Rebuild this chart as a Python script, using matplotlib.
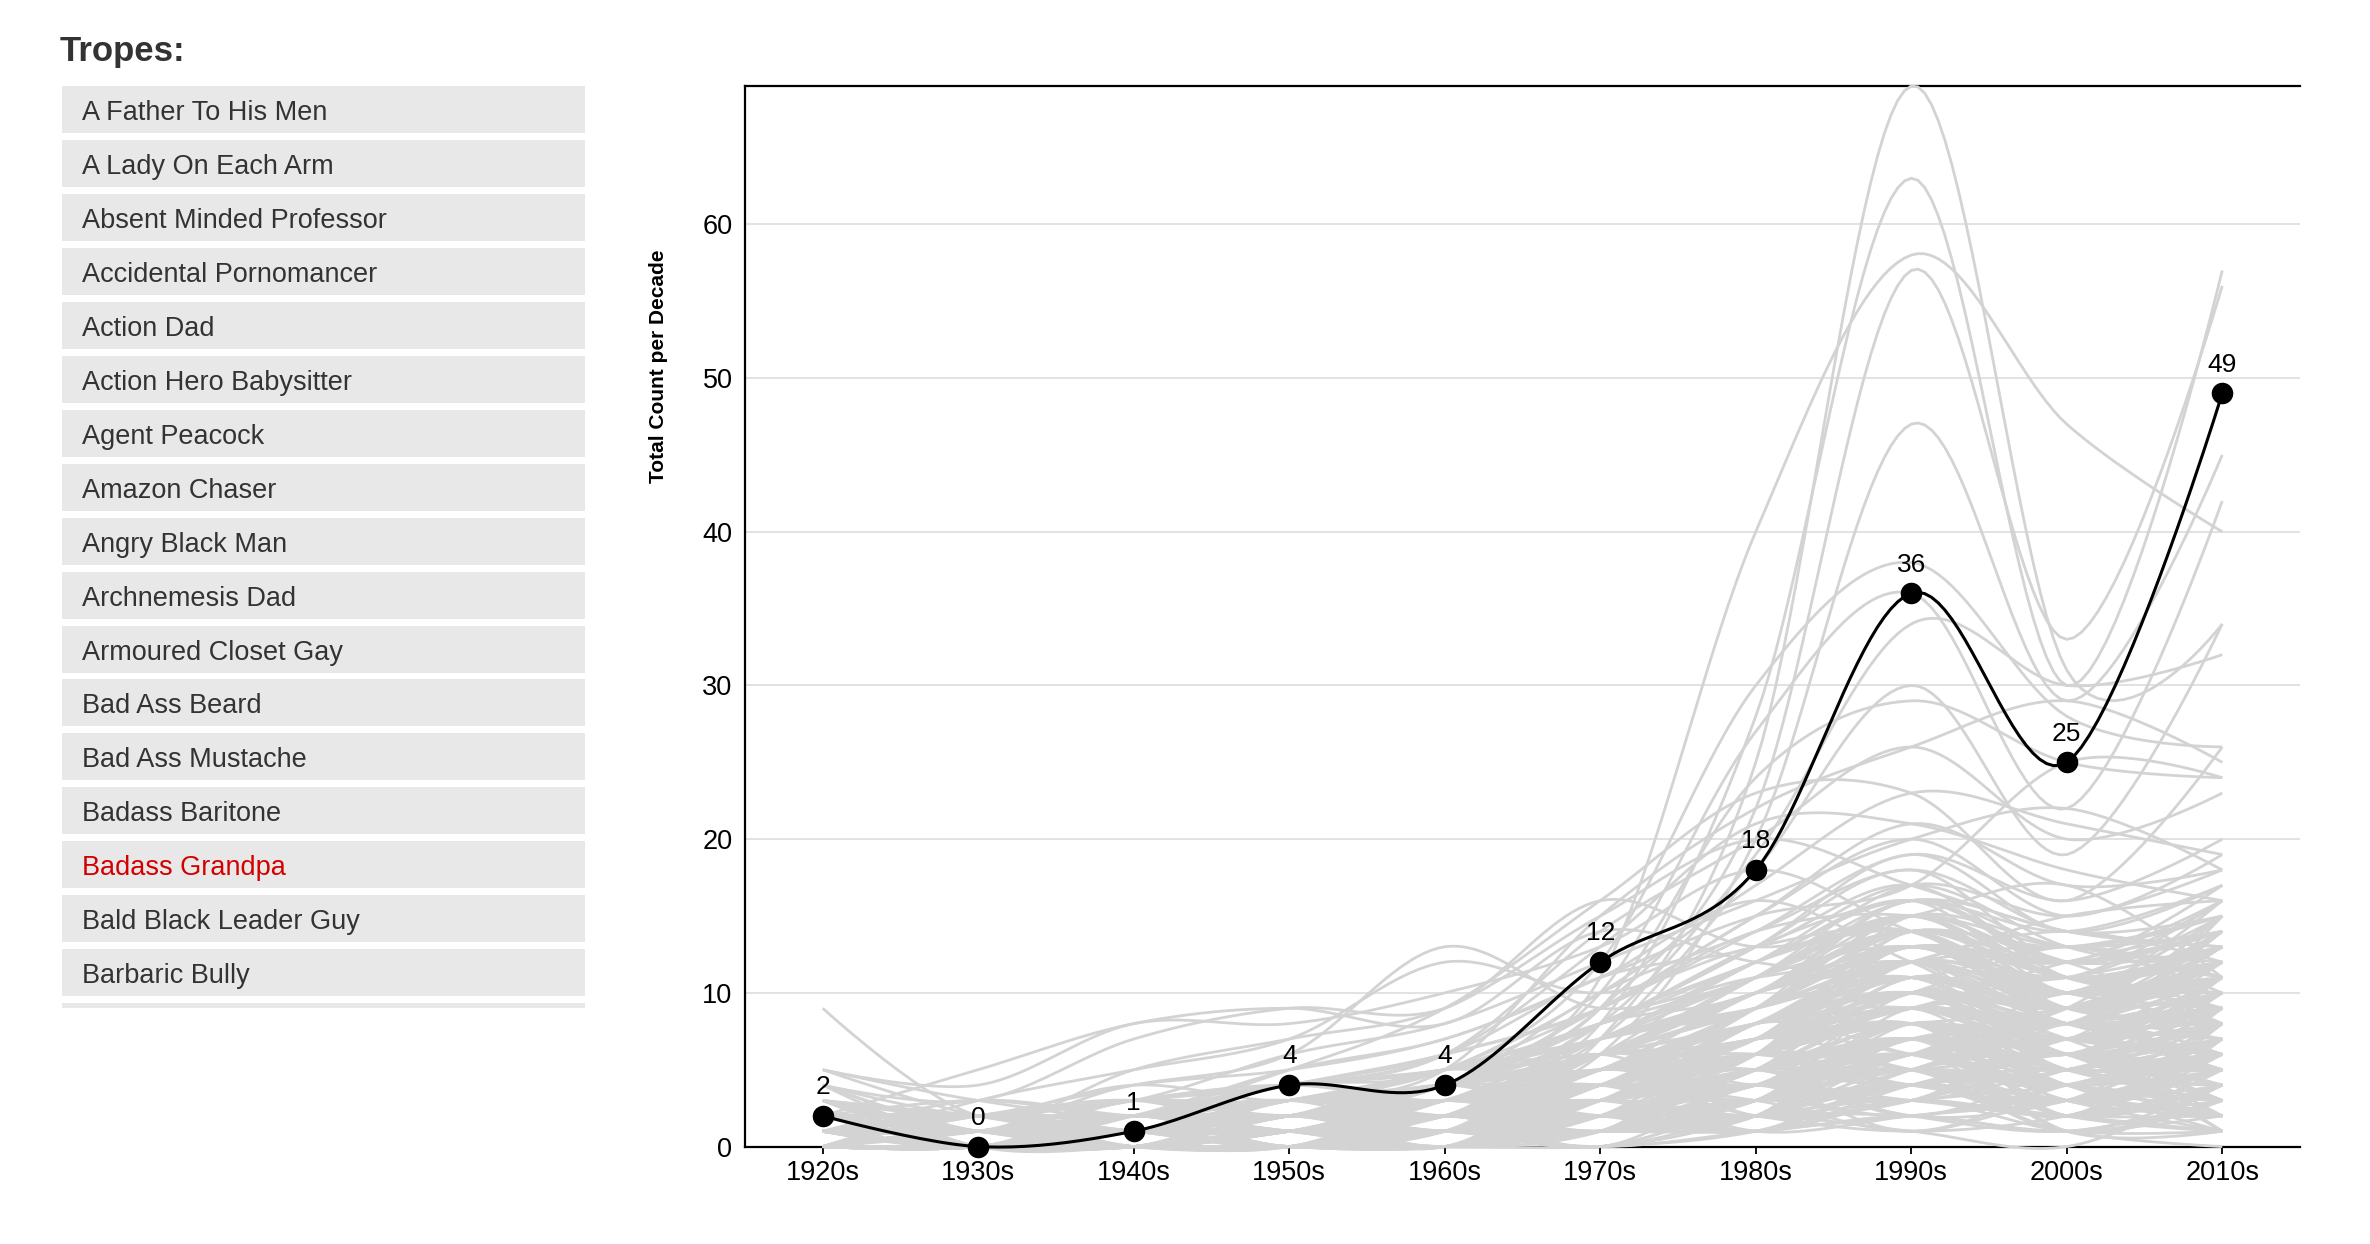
import numpy as np
import matplotlib
matplotlib.use("Agg")
import matplotlib.pyplot as plt
from matplotlib.patches import Rectangle

plt.rcParams['font.family'] = ['Liberation Sans', 'DejaVu Sans']

decades = ['1920s', '1930s', '1940s', '1950s', '1960s', '1970s', '1980s', '1990s', '2000s', '2010s']

trope_names = ['A Father To His Men', 'A Lady On Each Arm', 'Absent Minded Professor',
               'Accidental Pornomancer', 'Action Dad', 'Action Hero Babysitter', 'Agent Peacock',
               'Amazon Chaser', 'Angry Black Man', 'Archnemesis Dad', 'Armoured Closet Gay',
               'Bad Ass Beard', 'Bad Ass Mustache', 'Badass Baritone', 'Badass Grandpa',
               'Bald Black Leader Guy', 'Barbaric Bully']
selected_trope = 'Badass Grandpa'

# counts per decade for the selected trope
selected_counts = [2, 0, 1, 4, 4, 12, 18, 36, 25, 49]

# counts per decade for the other tropes (background lines)
other_counts = [
    [0, 1, 1, 2, 3, 7, 25, 69, 31, 34],
    [1, 0, 1, 2, 4, 8, 28, 63, 30, 57],
    [0, 0, 2, 3, 5, 11, 40, 58, 47, 40],
    [0, 1, 1, 3, 4, 9, 22, 57, 33, 56],
    [0, 0, 1, 2, 3, 6, 20, 47, 29, 45],
    [1, 1, 2, 4, 5, 12, 30, 38, 28, 26],
    [0, 0, 1, 2, 4, 10, 27, 36, 22, 42],
    [0, 1, 2, 3, 4, 8, 19, 34, 30, 32],
    [1, 0, 1, 2, 3, 7, 18, 30, 19, 34],
    [0, 1, 1, 2, 4, 9, 24, 29, 25, 24],
    [0, 0, 2, 3, 5, 15, 22, 26, 29, 25],
    [1, 2, 3, 4, 6, 14, 20, 26, 20, 23],
    [0, 1, 2, 5, 9, 16, 23, 23, 16, 26],
    [0, 0, 1, 3, 5, 10, 17, 23, 21, 19],
    [2, 1, 3, 4, 6, 13, 21, 21, 18, 16],
    [0, 2, 3, 6, 8, 12, 16, 20, 22, 18],
    [1, 0, 2, 5, 7, 11, 15, 17, 25, 24],
    [0, 1, 2, 4, 6, 9, 14, 15, 12, 17],
    [3, 1, 5, 7, 9, 15, 20, 17, 14, 13],
    [1, 2, 4, 6, 13, 9, 11, 12, 10, 15],
    [0, 3, 5, 7, 12, 10, 13, 14, 9, 12],
    [2, 5, 8, 9, 8, 14, 12, 11, 13, 10],
    [5, 4, 8, 8, 10, 13, 18, 14, 11, 9],
    [9, 2, 4, 5, 7, 11, 16, 12, 8, 14],
    [4, 3, 7, 9, 9, 16, 13, 15, 17, 11],
    [0, 0, 0, 0, 0, 1, 2, 5, 3, 6],
    [0, 0, 0, 1, 0, 2, 4, 8, 6, 9],
    [1, 0, 1, 1, 2, 3, 5, 9, 7, 10],
    [0, 1, 0, 2, 1, 2, 3, 6, 4, 8],
    [2, 1, 2, 3, 2, 4, 6, 10, 8, 12],
    [0, 0, 1, 0, 1, 0, 2, 3, 2, 4],
    [1, 1, 0, 1, 2, 5, 7, 12, 9, 13],
    [0, 0, 0, 0, 1, 1, 1, 2, 1, 3],
    [3, 2, 1, 2, 3, 4, 8, 11, 6, 7],
    [0, 1, 1, 0, 0, 2, 3, 4, 5, 2],
    [1, 0, 0, 1, 1, 3, 6, 14, 10, 11],
    [0, 2, 1, 1, 2, 3, 5, 7, 5, 5],
    [2, 0, 1, 2, 1, 4, 9, 13, 11, 16],
    [0, 0, 2, 1, 3, 2, 4, 6, 8, 9],
    [1, 1, 1, 2, 2, 6, 10, 15, 12, 14],
    [0, 0, 0, 1, 0, 1, 3, 5, 2, 1],
    [4, 2, 3, 2, 4, 5, 7, 9, 6, 8],
    [0, 1, 0, 0, 1, 2, 2, 3, 4, 6],
    [1, 0, 1, 3, 2, 5, 8, 10, 7, 12],
    [0, 0, 1, 1, 1, 0, 1, 2, 3, 5],
    [2, 2, 1, 0, 2, 3, 6, 8, 4, 3],
    [0, 1, 2, 2, 3, 4, 4, 6, 7, 10],
    [1, 0, 0, 1, 0, 2, 5, 11, 8, 6],
    [0, 0, 1, 2, 4, 3, 6, 9, 10, 13],
    [3, 1, 2, 1, 3, 6, 7, 13, 9, 15],
    [0, 0, 0, 0, 0, 0, 1, 4, 2, 7],
    [1, 2, 1, 2, 1, 3, 4, 5, 3, 4],
    [0, 1, 1, 1, 2, 4, 9, 16, 11, 10],
    [2, 1, 0, 3, 2, 2, 3, 7, 5, 9],
    [0, 0, 2, 0, 1, 1, 2, 2, 1, 2],
    [1, 1, 3, 2, 3, 5, 8, 12, 14, 12],
    [0, 0, 0, 1, 1, 2, 4, 6, 3, 5],
    [5, 3, 2, 4, 5, 7, 10, 14, 9, 8],
    [0, 1, 0, 1, 0, 1, 2, 8, 6, 11],
    [1, 0, 2, 1, 2, 3, 7, 9, 12, 14],
    [0, 2, 1, 3, 4, 5, 5, 4, 6, 3],
    [2, 0, 0, 0, 1, 2, 3, 10, 7, 6],
    [0, 1, 1, 2, 1, 4, 6, 13, 8, 9],
    [1, 0, 1, 0, 3, 3, 5, 7, 9, 16],
    [0, 0, 0, 2, 2, 1, 3, 3, 2, 1],
    [3, 2, 4, 3, 5, 6, 11, 15, 10, 12],
    [0, 1, 2, 1, 0, 2, 4, 5, 4, 7],
    [1, 1, 0, 2, 3, 7, 9, 11, 6, 5],
    [0, 0, 1, 0, 2, 3, 2, 6, 5, 8],
    [2, 1, 2, 4, 3, 5, 7, 10, 13, 11],
    [0, 0, 0, 0, 1, 1, 2, 1, 0, 4],
    [1, 3, 2, 2, 4, 4, 6, 8, 7, 6],
    [0, 0, 1, 3, 2, 6, 12, 14, 8, 10],
    [4, 1, 1, 2, 2, 3, 5, 12, 10, 13],
    [0, 2, 0, 1, 1, 2, 1, 3, 2, 3],
    [1, 0, 3, 2, 5, 4, 8, 9, 11, 9],
    [0, 1, 1, 1, 0, 3, 4, 7, 6, 4],
    [2, 0, 2, 3, 4, 8, 10, 16, 13, 15],
    [0, 0, 0, 1, 1, 1, 3, 5, 4, 2],
    [1, 2, 1, 0, 2, 5, 6, 11, 5, 7],
    [0, 0, 2, 2, 3, 2, 7, 8, 9, 12],
    [3, 1, 0, 1, 1, 4, 3, 6, 3, 5],
    [0, 1, 1, 2, 2, 6, 9, 14, 12, 8],
    [1, 0, 0, 0, 0, 1, 2, 4, 1, 0],
    [0, 1, 3, 4, 3, 5, 6, 9, 8, 14],
    [2, 2, 1, 1, 3, 3, 8, 12, 6, 11],
    [0, 0, 1, 0, 1, 2, 5, 6, 7, 6],
    [1, 1, 2, 3, 1, 4, 4, 10, 9, 13],
    [0, 0, 0, 1, 2, 7, 11, 13, 10, 9],
    [5, 2, 1, 2, 3, 2, 4, 3, 2, 2],
    [0, 1, 2, 1, 2, 3, 6, 15, 11, 12],
    [1, 0, 1, 2, 4, 5, 7, 8, 5, 10],
    [0, 2, 0, 0, 1, 1, 2, 5, 8, 7],
    [2, 1, 1, 3, 2, 6, 10, 12, 15, 16],
    [0, 0, 1, 1, 3, 4, 3, 7, 4, 3],
    [1, 1, 0, 2, 1, 2, 5, 9, 6, 8],
    [0, 0, 2, 1, 0, 3, 8, 11, 7, 15],
    [3, 0, 1, 1, 2, 5, 6, 4, 3, 6],
    [0, 1, 0, 3, 3, 4, 9, 13, 9, 11],
    [1, 0, 2, 0, 2, 1, 4, 6, 10, 9],
    [0, 1, 1, 2, 5, 6, 7, 10, 8, 13],
    [2, 1, 0, 1, 1, 2, 3, 8, 5, 4],
    [0, 0, 1, 2, 2, 8, 12, 16, 12, 14],
    [1, 2, 3, 1, 3, 3, 5, 5, 6, 5],
    [0, 0, 0, 0, 2, 2, 6, 9, 4, 7],
    [4, 1, 2, 2, 1, 4, 7, 14, 11, 10],
    [0, 1, 1, 1, 3, 5, 4, 6, 9, 12],
    [1, 0, 0, 2, 2, 3, 8, 10, 7, 3],
    [0, 0, 1, 1, 1, 6, 10, 12, 13, 11],
    [2, 1, 2, 2, 4, 2, 5, 7, 5, 9],
    [0, 2, 1, 0, 0, 1, 3, 4, 3, 6],
    [1, 0, 1, 3, 2, 7, 9, 15, 10, 14],
    [0, 1, 0, 1, 1, 3, 6, 8, 6, 5],
    [0, 0, 1, 1, 2, 4, 7, 10, 9, 11],
    [1, 1, 2, 2, 3, 5, 9, 13, 11, 15],
    [0, 1, 1, 3, 4, 6, 11, 16, 14, 13],
    [2, 2, 3, 3, 5, 8, 13, 18, 12, 16],
    [0, 0, 0, 1, 2, 3, 6, 9, 7, 8],
    [1, 0, 1, 2, 3, 5, 10, 14, 9, 12],
    [0, 1, 2, 2, 4, 7, 12, 17, 13, 11],
    [1, 2, 2, 4, 5, 9, 14, 19, 16, 20],
    [0, 0, 1, 1, 1, 2, 4, 7, 5, 9],
    [2, 1, 1, 2, 2, 4, 8, 12, 10, 14],
    [0, 1, 0, 1, 3, 6, 9, 11, 8, 7],
    [1, 1, 2, 3, 4, 7, 11, 15, 11, 13],
    [0, 0, 1, 2, 2, 5, 10, 13, 12, 16],
    [3, 2, 2, 3, 4, 6, 9, 12, 9, 10],
    [0, 1, 1, 1, 2, 3, 5, 8, 6, 9],
    [1, 0, 2, 3, 5, 8, 13, 16, 14, 17],
    [0, 2, 1, 2, 3, 4, 7, 10, 8, 12],
    [2, 1, 3, 4, 6, 9, 15, 20, 15, 19],
    [0, 0, 0, 1, 1, 3, 5, 7, 6, 5],
    [1, 1, 1, 2, 3, 5, 8, 11, 9, 13],
    [0, 1, 2, 3, 4, 10, 14, 18, 14, 15],
    [1, 0, 1, 1, 2, 4, 6, 9, 8, 10],
    [0, 0, 1, 2, 3, 5, 9, 15, 13, 12],
    [2, 3, 2, 3, 4, 7, 12, 14, 10, 11],
    [0, 1, 1, 1, 2, 4, 7, 13, 9, 14],
    [1, 0, 0, 1, 2, 3, 6, 10, 11, 13],
    [0, 2, 2, 4, 6, 11, 13, 17, 11, 10],
    [1, 1, 1, 2, 3, 6, 10, 12, 8, 9],
    [0, 0, 1, 1, 2, 2, 5, 8, 7, 11],
    [3, 1, 2, 2, 3, 5, 7, 9, 7, 8],
    [0, 1, 1, 3, 5, 8, 12, 16, 10, 12],
    [1, 0, 2, 2, 4, 6, 11, 14, 12, 14],
    [0, 0, 0, 1, 1, 2, 4, 6, 5, 7],
    [2, 1, 1, 2, 4, 7, 10, 13, 9, 10],
    [0, 1, 2, 3, 3, 5, 8, 10, 9, 12],
    [1, 2, 1, 1, 2, 4, 6, 9, 10, 11],
    [0, 0, 1, 2, 4, 9, 15, 21, 17, 18],
    [1, 1, 2, 3, 5, 7, 9, 12, 8, 6],
    [0, 1, 0, 1, 2, 3, 7, 11, 9, 13],
    [2, 0, 1, 2, 3, 4, 6, 8, 6, 7],
    [0, 0, 2, 2, 3, 6, 9, 13, 11, 10],
    [1, 1, 1, 1, 2, 5, 8, 10, 7, 9],
    [0, 2, 3, 4, 5, 8, 11, 15, 12, 14],
    [1, 0, 1, 2, 2, 3, 5, 7, 4, 6],
    [0, 1, 1, 2, 3, 4, 6, 12, 10, 8],
    [2, 1, 2, 3, 4, 6, 10, 14, 13, 15],
    [0, 0, 1, 1, 2, 3, 4, 5, 4, 8],
    [1, 1, 0, 2, 3, 5, 7, 9, 8, 11],
    [0, 1, 2, 2, 4, 8, 13, 19, 14, 17],
    [1, 0, 1, 1, 1, 2, 3, 6, 5, 7],
    [0, 0, 0, 2, 3, 4, 8, 12, 9, 11],
    [3, 2, 3, 4, 5, 7, 11, 13, 10, 12],
    [0, 1, 1, 1, 3, 5, 9, 14, 11, 12],
    [1, 0, 2, 3, 4, 6, 8, 10, 6, 8],
    [0, 0, 1, 2, 2, 4, 7, 9, 8, 10],
    [2, 1, 1, 1, 2, 3, 5, 11, 9, 12],
    [0, 1, 0, 1, 1, 2, 3, 4, 3, 5],
    [1, 2, 2, 3, 4, 7, 10, 16, 12, 13],
    [0, 0, 1, 1, 2, 5, 8, 12, 10, 15],
    [1, 1, 1, 2, 3, 4, 6, 8, 7, 9],
    [0, 0, 2, 3, 4, 6, 9, 11, 9, 13],
    [2, 1, 0, 1, 3, 5, 7, 10, 8, 7],
    [0, 1, 1, 2, 2, 3, 5, 9, 7, 10],
    [1, 0, 1, 1, 4, 7, 12, 15, 13, 14],
    [0, 2, 1, 2, 3, 5, 6, 8, 5, 6],
    [1, 1, 2, 2, 3, 6, 9, 12, 11, 12],
    [0, 0, 0, 1, 2, 4, 6, 10, 8, 9],
    [2, 1, 2, 3, 3, 4, 8, 11, 7, 11],
    [0, 1, 1, 1, 1, 3, 5, 6, 6, 8],
    [1, 0, 1, 2, 4, 6, 11, 17, 15, 18],
    [0, 0, 1, 2, 3, 5, 7, 8, 7, 9],
    [1, 2, 1, 2, 2, 4, 7, 10, 9, 12],
    [0, 1, 2, 2, 3, 6, 8, 13, 10, 11],
    [2, 0, 1, 1, 2, 3, 5, 7, 6, 10],
    [0, 0, 1, 3, 3, 5, 10, 12, 9, 8],
    [1, 1, 2, 2, 4, 6, 8, 11, 10, 13],
    [0, 1, 0, 1, 2, 4, 7, 9, 8, 6],
    [1, 0, 1, 2, 3, 5, 9, 13, 12, 14],
    [0, 0, 2, 2, 4, 7, 10, 14, 11, 13],
    [2, 1, 1, 2, 3, 4, 6, 9, 7, 9],
    [0, 0, 0, 0, 1, 2, 3, 5, 4, 3],
    [1, 0, 1, 0, 1, 1, 2, 4, 3, 2],
    [0, 1, 0, 1, 0, 2, 1, 3, 1, 1],
    [0, 0, 1, 0, 0, 1, 4, 6, 2, 4],
    [2, 0, 0, 1, 1, 3, 2, 5, 6, 3],
    [0, 1, 0, 0, 2, 1, 3, 2, 4, 6],
    [1, 0, 0, 1, 1, 2, 5, 7, 3, 2],
    [0, 0, 1, 1, 0, 4, 2, 1, 2, 5],
    [0, 2, 0, 1, 1, 0, 3, 6, 5, 7],
    [1, 1, 0, 0, 3, 2, 1, 4, 2, 6],
    [0, 0, 0, 2, 1, 1, 6, 8, 4, 1],
    [3, 0, 1, 1, 2, 3, 4, 3, 7, 5],
    [0, 1, 1, 0, 1, 5, 3, 7, 1, 3],
    [1, 0, 0, 0, 0, 2, 7, 5, 3, 8],
    [0, 0, 2, 1, 2, 1, 2, 9, 6, 4],
    [2, 1, 0, 2, 0, 3, 5, 2, 5, 7],
    [0, 0, 1, 1, 1, 4, 1, 6, 4, 2],
    [1, 2, 0, 0, 2, 0, 4, 3, 8, 6],
    [0, 0, 0, 1, 3, 2, 3, 8, 2, 5],
    [0, 1, 1, 2, 1, 1, 5, 4, 3, 9],
    [4, 0, 0, 1, 2, 3, 2, 7, 6, 1],
    [0, 0, 1, 0, 1, 6, 4, 5, 1, 4],
    [1, 1, 0, 1, 0, 1, 6, 9, 5, 3],
    [0, 0, 0, 0, 1, 3, 2, 3, 7, 8],
    [2, 0, 1, 2, 2, 2, 8, 6, 4, 6],
    [0, 1, 0, 1, 3, 4, 1, 2, 3, 2],
    [1, 0, 2, 0, 1, 2, 3, 8, 2, 7],
    [0, 0, 0, 1, 0, 5, 6, 4, 6, 5],
    [0, 2, 1, 1, 2, 1, 2, 6, 3, 1],
    [1, 0, 0, 2, 1, 3, 7, 10, 5, 4],
    [0, 1, 1, 0, 0, 2, 4, 1, 4, 6],
    [2, 0, 0, 1, 2, 4, 3, 5, 1, 3],
    [0, 0, 1, 1, 1, 1, 5, 7, 8, 9],
    [1, 1, 0, 0, 3, 6, 2, 3, 5, 2],
    [0, 0, 0, 2, 1, 2, 6, 5, 2, 8],
    [0, 1, 2, 1, 2, 3, 1, 4, 6, 4],
    [3, 0, 0, 0, 1, 0, 3, 6, 4, 5],
    [0, 0, 1, 1, 0, 4, 5, 2, 3, 7],
    [1, 2, 0, 1, 2, 2, 2, 7, 1, 1],
    [0, 0, 0, 0, 1, 5, 8, 9, 6, 3],
    [0, 1, 1, 2, 2, 1, 4, 3, 5, 6],
    [2, 0, 0, 1, 0, 3, 6, 8, 2, 4],
    [0, 0, 2, 0, 1, 2, 1, 5, 7, 5],
    [1, 1, 0, 1, 3, 4, 3, 1, 3, 2],
    [0, 0, 1, 1, 1, 1, 7, 6, 4, 8],
    [0, 1, 0, 0, 2, 3, 2, 4, 6, 1],
    [1, 0, 1, 2, 1, 6, 5, 8, 5, 6],
    [0, 0, 0, 1, 0, 2, 4, 2, 1, 3],
    [2, 1, 1, 0, 2, 1, 3, 7, 8, 9],
    [0, 0, 0, 1, 1, 3, 1, 3, 2, 4],
    [1, 0, 2, 1, 0, 4, 6, 5, 3, 5],
    [0, 1, 0, 0, 1, 0, 2, 6, 4, 7],
    [0, 0, 1, 2, 3, 2, 5, 4, 6, 2],
]


def cardinal_curve(xs, ys, n=24):
    # same construction as d3.curveCardinal (tension 0): flat tangent at both ends
    k = 1.0 / 6.0
    pts = np.column_stack([xs, ys]).astype(float)
    m = len(pts)
    t = np.linspace(0, 1, n)[:, None]
    out = [pts[:1]]
    for i in range(m - 1):
        p1, p2 = pts[i], pts[i + 1]
        p0 = pts[i - 1] if i > 0 else p2
        p3 = pts[i + 2] if i + 2 < m else p1
        c1 = p1 + k * (p2 - p0)
        c2 = p2 - k * (p3 - p1)
        seg = ((1 - t) ** 3) * p1 + 3 * ((1 - t) ** 2) * t * c1 + 3 * (1 - t) * t ** 2 * c2 + t ** 3 * p2
        out.append(seg[1:])
    out = np.vstack(out)
    return out[:, 0], out[:, 1]


W, H = 2370, 1244
fig = plt.figure(figsize=(W / 100, H / 100), dpi=100)

# left panel: list of tropes
lax = fig.add_axes([0, 0, 1, 1])
lax.set_xlim(0, W)
lax.set_ylim(H, 0)
lax.axis('off')
lax.text(60, 61, 'Tropes:', fontsize=25, fontweight='bold', color='#333333', va='baseline', ha='left')
box_top = 86
box_h = 47
step = 53.95
for i, name in enumerate(trope_names):
    y0 = box_top + i * step
    lax.add_patch(Rectangle((62, y0), 523, box_h, facecolor='#e8e8e8', edgecolor='none'))
    col = '#d40000' if name == selected_trope else '#333333'
    lax.text(82, y0 + box_h / 2 + 10.5, name, fontsize=19.5, color=col, va='baseline', ha='left')
# next item, cut off by the scroll box
lax.add_patch(Rectangle((62, box_top + len(trope_names) * step), 523, 5, facecolor='#e8e8e8', edgecolor='none'))

# main chart
ax = fig.add_axes([745 / W, 1 - 1146.6 / H, (2300 - 745) / W, (1146.6 - 86) / H])
x = np.arange(len(decades))

for row in other_counts:
    cx, cy = cardinal_curve(x, row)
    ax.plot(cx, cy, color='#d3d3d3', lw=2.0, zorder=3, clip_on=False, solid_capstyle='butt')

cx, cy = cardinal_curve(x, selected_counts)
ax.plot(cx, cy, color='black', lw=2.2, zorder=5, clip_on=False)
ax.plot(x, selected_counts, 'o', color='black', markersize=14.5, zorder=6, clip_on=False)
for xi, v in zip(x, selected_counts):
    ax.annotate(str(v), (xi, v), xytext=(0, 12), textcoords='offset points',
                ha='center', va='bottom', fontsize=19, color='black', zorder=7)

ax.set_xlim(-0.5, len(decades) - 0.5)
ax.set_ylim(0, 69)
ax.set_xticks(x)
ax.set_xticklabels(decades)
ax.set_yticks(np.arange(0, 61, 10))
ax.tick_params(axis='x', length=5, width=1.3, pad=5, labelsize=19.5)
ax.tick_params(axis='y', length=0, pad=9, labelsize=19.5)
ax.grid(axis='y', color='#dddddd', lw=1.2, zorder=0)
ax.set_axisbelow(True)
for side in ['left', 'top', 'bottom']:
    ax.spines[side].set_linewidth(1.6)
    ax.spines[side].set_color('black')
ax.spines['right'].set_visible(False)

fig.text(659 / W, 1 - 366 / H, 'Total Count per Decade', rotation=90, fontsize=15,
         fontweight='bold', ha='center', va='center', color='black')

fig.savefig('out.png', dpi=100)
